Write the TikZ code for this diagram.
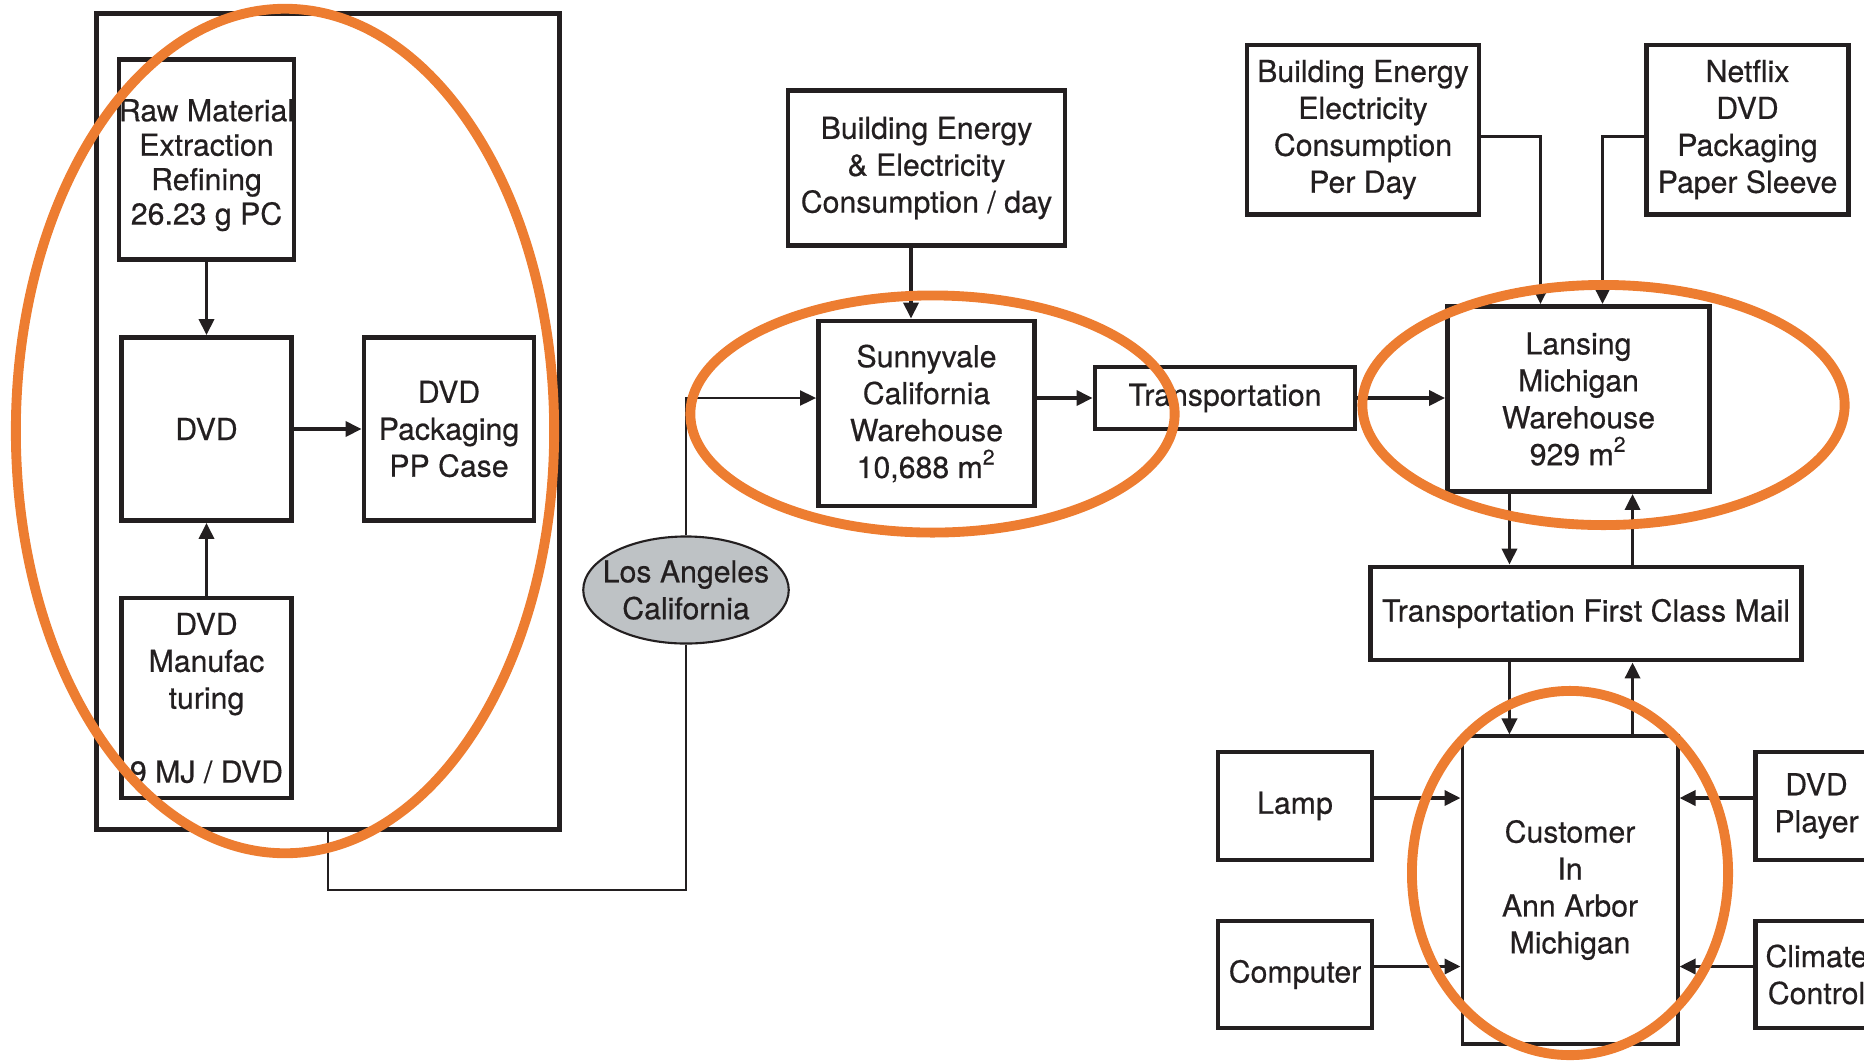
\documentclass[tikz,border=0pt]{standalone}
\usepackage{fontspec}
\setmainfont{TeX Gyre Heros}[FakeBold=0.5]
\usepackage{tikz}
\usetikzlibrary{arrows.meta,shapes.geometric}

\definecolor{naranja}{RGB}{237,125,49}
\definecolor{grisLA}{RGB}{190,194,197}
\definecolor{tinta}{RGB}{35,31,32}
\newcommand{\textoCaja}{\fontsize{8.6}{10.5}\selectfont}

\begin{document}
\begin{tikzpicture}[
    x=0.01cm, y=-0.01cm,
    % --- CAJAS: borde grueso, texto centrado ---
    caja/.style={rectangle, draw=tinta, line width=1.35pt, align=center, inner sep=0pt, font=\textoCaja, text=tinta},
    ciudad/.style={ellipse, draw=tinta, line width=0.6pt, fill=grisLA, align=center, inner sep=-3pt, font=\textoCaja, text=tinta},
    % --- FLECHAS ---
    flecha/.style={-{Triangle[length=0.16cm,width=0.15cm]}, draw=tinta, line width=1pt},
    flechaFina/.style={flecha, line width=0.55pt},
    linea/.style={draw=tinta, line width=0.55pt},
    % --- ANILLOS NARANJAS ---
    anillo/.style={draw=naranja, line width=2.8pt}
]
    \path[use as bounding box, clip] (0,0) rectangle (1864,1060);

    % --- PRODUCCION (marco izquierdo) ---
    \node[caja, line width=1.4pt, minimum width=4.62cm, minimum height=8.15cm] (marco) at (328,421.5) {};
    \node[caja, font=\fontsize{8.6}{9.8}\selectfont, minimum width=1.70cm, minimum height=2.00cm] (raw) at (206.5,159.5) {\rule{0pt}{9.5pt}Raw Material\\Extraction\\Refining\\26.23 g PC};
    \node[caja, minimum width=1.70cm, minimum height=1.83cm] (dvd)   at (206.5,429)   {DVD};
    \node[caja, minimum width=1.70cm, minimum height=1.83cm] (pack)  at (449,429)     {DVD\\Packaging\\PP Case};
    \node[caja, minimum width=1.70cm, minimum height=2.00cm] (manuf) at (206.5,698)   {DVD\\Manufac\\turing\\[10.5pt]9 MJ / DVD};

    \draw[flecha] (raw) -- (dvd);
    \draw[flecha] (manuf) -- (dvd);
    \draw[flecha] (dvd) -- (pack);

    % --- LOS ANGELES Y SUNNYVALE ---
    \node[ciudad, minimum width=1.99cm, minimum height=1.07cm] (la) at (686,590) {Los Angeles\\California};
    \node[caja, minimum width=2.77cm, minimum height=1.55cm] (bldgA) at (926.5,168)   {Building Energy\\\& Electricity\\Consumption / day};
    \node[caja, minimum width=2.16cm, minimum height=1.85cm] (sunny) at (926.5,413.5) {Sunnyvale\\California\\Warehouse\\10,688 m\textsuperscript{2}};
    \node[caja, minimum width=2.60cm, minimum height=0.62cm] (trans) at (1225,398)    {Transportation};

    \coordinate (giro) at (686,890);
    \draw[linea] (marco.south) |- (giro) -- (la.south);
    \draw[flechaFina] (la.north) |- (sunny.west |- trans.west);
    \draw[flecha] ([xshift=-0.155cm]bldgA.south) -- ([xshift=-0.155cm]sunny.north);
    \draw[flecha] (sunny.east |- trans.west) -- (trans.west);

    % --- LANSING ---
    \node[caja, minimum width=2.32cm, minimum height=1.69cm] (bldgB)   at (1363,129.6)  {Building Energy\\Electricity\\Consumption\\Per Day};
    \node[caja, minimum width=2.02cm, minimum height=1.69cm] (netflix) at (1747.5,129.6) {Netflix\\DVD\\Packaging\\Paper Sleeve};
    \node[caja, minimum width=2.62cm, minimum height=1.85cm] (lansing) at (1578.5,399)  {Lansing\\Michigan\\Warehouse\\929 m\textsuperscript{2}};
    \node[caja, minimum width=4.31cm, minimum height=0.93cm] (tfcm)    at (1586,613.5)  {Transportation First Class Mail};

    \draw[flecha] (trans.east) -- (lansing.west |- trans.east);
    \draw[flecha] ([yshift=-0.07cm]bldgB.east) -| ([xshift=-0.38cm]lansing.north);
    \draw[flecha] ([yshift=-0.07cm]netflix.west) -| ([xshift=0.24cm]lansing.north);

    % --- CLIENTE ---
    \node[caja, line width=1.1pt, minimum width=2.15cm, minimum height=3.07cm] (cust) at (1570,890) {Customer\\In\\Ann Arbor\\Michigan};
    \node[caja, minimum width=1.54cm, minimum height=1.08cm] (lamp)    at (1295,806)    {Lamp};
    \node[caja, minimum width=1.54cm, minimum height=1.07cm] (comp)    at (1295,974.5)  {Computer};
    \node[caja, minimum width=1.22cm, minimum height=1.08cm] (player)  at (1816.5,806)  {DVD\\Player};
    \node[caja, minimum width=1.22cm, minimum height=1.07cm] (climate) at (1816.5,974.5) {Climate\\Control};

    \coordinate (bajada) at ([xshift=-0.69cm]lansing.south);
    \coordinate (subida) at ([xshift=0.54cm]lansing.south);
    \draw[flecha] (bajada) -- (bajada |- tfcm.north);
    \draw[flecha] (subida |- tfcm.north) -- (subida);
    \draw[flecha] (bajada |- tfcm.south) -- (bajada |- cust.north);
    \draw[flecha] (subida |- cust.north) -- (subida |- tfcm.south);

    \draw[flecha] ([yshift=0.08cm]lamp.east) -- ([yshift=0.08cm]lamp.east -| cust.west);
    \draw[flecha] ([yshift=0.08cm]comp.east) -- ([yshift=0.08cm]comp.east -| cust.west);
    \draw[flecha] ([yshift=0.08cm]player.west) -- ([yshift=0.08cm]player.west -| cust.east);
    \draw[flecha] ([yshift=0.08cm]climate.west) -- ([yshift=0.08cm]climate.west -| cust.east);

    % --- ANILLOS ---
    \draw[anillo] (285,431) ellipse [x radius=2.69cm, y radius=4.22cm];
    \draw[anillo] (932.5,414) ellipse [x radius=2.42cm, y radius=1.185cm];
    \draw[anillo] (1603.5,405) ellipse [x radius=2.41cm, y radius=1.20cm];
    \draw[anillo] (1570,873) ellipse [x radius=1.58cm, y radius=1.82cm];

\end{tikzpicture}
\end{document}
